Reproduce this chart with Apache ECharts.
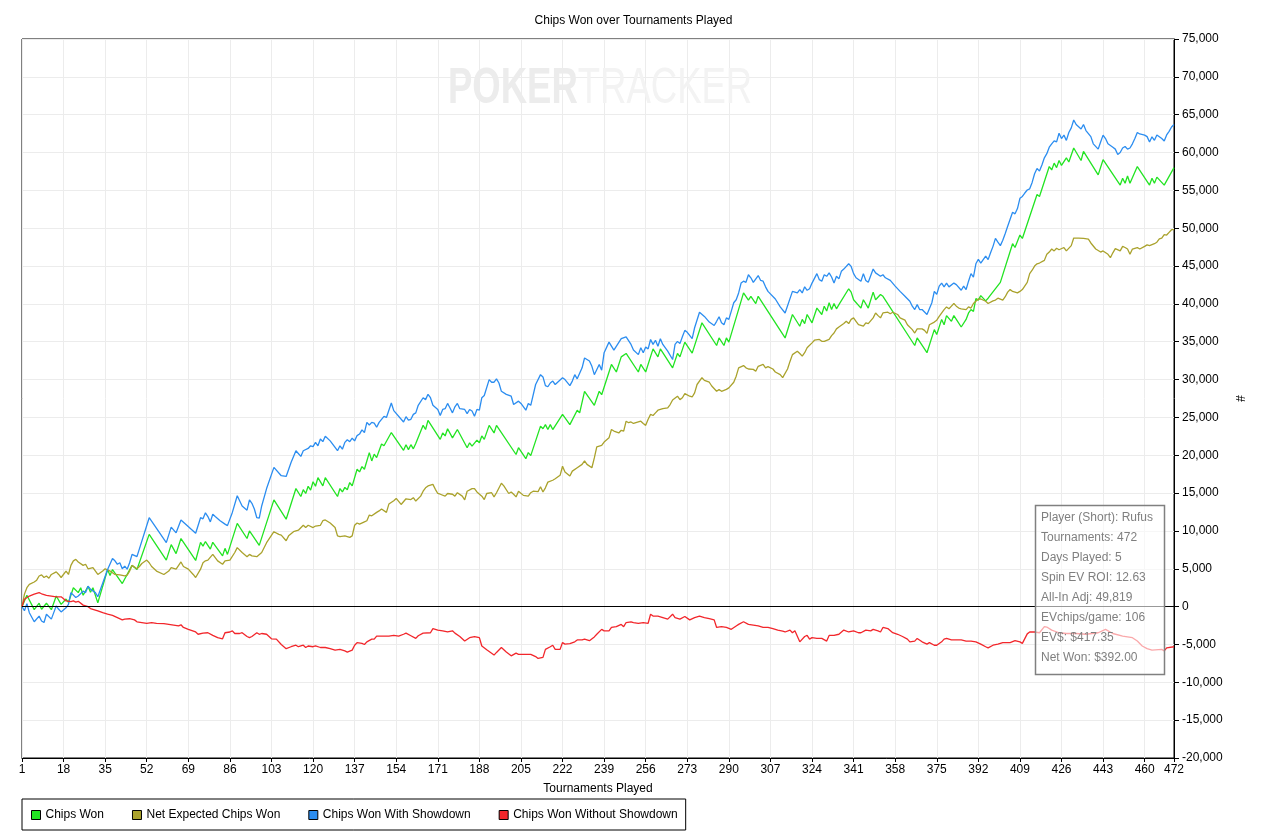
<!DOCTYPE html>
<html>
<head>
<meta charset="utf-8">
<script src="https://cdn.jsdelivr.net/npm/echarts/dist/echarts.min.js"></script>
<style>
html,body{margin:0;padding:0;background:#fff;}
#chart{width:1267px;height:834px;}
</style>
</head>
<body>
<div id="chart"></div>
<script>
// ---- data: [tournament, chips] pairs ----
const chartTitle = 'Chips Won over Tournaments Played';
const xAxisName = 'Tournaments Played';
const yAxisName = '#';
const seriesNames = ['Chips Won', 'Net Expected Chips Won', 'Chips Won With Showdown', 'Chips Won Without Showdown'];
const seriesColors = ['#22e422', '#aaa22c', '#2b8df0', '#f2262b'];
const infoLines = ['Player (Short): Rufus', 'Tournaments: 472', 'Days Played: 5', 'Spin EV ROI: 12.63', 'All-In Adj: 49,819', 'EVchips/game: 106', 'EV$: $417.35', 'Net Won: $392.00'];

const chipsWon = [[1,0],[3,1500],[6,-400],[8,450],[9,-350],[11,450],[13,-400],[15,1400],[17,300],[19,1000],[20,550],[22,2500],[24,1850],[25,2500],[26,1500],[28,2700],[29,1900],[30,2500],[32,500],[36,4900],[37,4100],[38,4900],[42,3050],[46,5450],[48,4900],[53,9550],[60,6150],[62,8200],[64,7000],[66,9000],[72,6100],[74,8500],[75,8000],[76,8600],[78,7600],[79,8500],[83,6700],[84,7700],[85,6900],[89,11000],[93,9000],[94,10000],[98,8100],[104,14100],[109,11550],[113,15600],[115,14550],[116,15450],[117,14950],[118,15900],[119,15400],[120,16500],[121,15900],[122,17050],[124,15950],[125,17050],[130,14550],[131,15600],[132,15150],[133,15750],[134,15450],[135,16400],[136,15950],[138,18150],[139,17800],[140,18500],[141,18150],[143,20350],[144,19250],[145,20150],[146,19700],[148,21500],[149,21250],[152,23000],[157,20650],[158,21400],[159,20750],[160,21400],[161,20850],[162,21550],[165,23950],[166,23400],[167,24600],[172,22100],[173,22950],[174,22550],[175,23500],[177,22300],[179,23400],[183,21000],[184,21650],[185,21200],[187,22000],[188,21650],[189,22550],[190,22100],[192,23950],[194,22950],[195,23950],[203,20100],[204,21000],[207,19550],[208,20350],[209,19950],[213,23850],[214,23500],[215,24050],[216,23400],[217,24050],[218,23400],[222,25400],[225,24050],[228,25950],[229,25600],[231,28450],[235,26600],[237,28450],[238,28000],[242,32000],[244,31000],[246,33000],[248,33450],[253,31000],[254,32000],[256,31000],[259,34050],[261,33000],[262,34050],[267,31550],[269,33450],[270,33000],[272,34950],[275,33500],[279,37500],[285,34500],[286,35500],[288,34500],[289,35500],[290,34950],[296,41450],[298,40500],[299,41000],[301,40050],[302,41000],[313,35500],[316,38600],[319,37050],[320,37950],[321,37400],[322,38600],[324,37500],[326,39450],[328,38600],[329,39700],[330,39050],[331,40150],[332,39250],[333,40050],[334,39350],[335,39900],[339,42000],[340,41550],[341,40550],[344,39450],[345,40550],[347,39450],[349,41550],[350,40550],[352,41250],[353,41000],[366,34500],[367,35500],[371,33550],[374,36600],[375,35950],[377,37950],[378,37250],[379,38450],[381,37700],[382,38450],[383,37950],[385,36950],[387,37950],[388,38800],[389,39250],[390,39000],[391,40700],[392,40500],[393,41100],[395,40400],[396,40750],[401,42850],[406,47950],[407,47450],[409,49100],[410,48650],[416,54450],[417,54200],[421,58150],[422,57700],[423,58600],[424,58000],[425,58950],[426,58300],[428,59300],[429,58750],[431,60600],[434,58950],[435,60150],[441,57050],[443,59050],[450,55700],[451,56600],[452,55950],[453,56900],[454,55950],[457,58150],[462,55700],[463,56600],[464,55950],[465,56750],[468,55700],[472,58000]];

const netExpectedChipsWon = [[1,0],[2,1650],[3,2500],[4,2950],[6,3250],[7,3500],[8,4050],[9,4200],[10,3850],[11,4050],[12,3750],[13,4250],[15,4600],[16,4250],[17,3850],[19,4700],[20,4250],[21,5450],[22,6050],[23,6250],[24,5900],[26,5450],[27,5600],[28,5000],[30,5150],[32,4250],[34,4700],[35,5000],[37,4700],[39,4250],[41,4200],[43,4050],[44,4150],[45,4700],[46,5450],[48,5000],[49,5300],[50,5700],[52,6150],[53,5800],[54,5300],[56,4700],[59,4250],[61,4700],[62,5150],[64,4950],[66,5900],[67,5300],[69,4950],[71,4250],[72,3850],[74,4950],[75,5800],[76,6050],[77,6150],[79,6900],[81,6050],[83,5600],[84,6050],[86,6150],[88,7150],[89,7800],[91,7150],[93,6600],[94,6900],[95,6700],[97,6600],[99,7150],[101,8450],[104,9900],[106,9550],[107,9450],[109,8700],[110,9350],[112,9900],[114,10100],[116,10750],[117,10450],[118,10750],[120,10450],[121,10650],[123,10750],[124,11350],[125,11450],[127,11050],[129,10450],[130,9350],[131,9250],[133,9350],[135,9150],[136,9350],[137,10750],[138,11050],[139,10900],[141,11200],[142,11350],[143,12100],[144,12000],[146,12450],[147,12650],[148,12900],[150,12450],[151,13550],[153,14000],[154,14300],[156,13500],[158,14250],[160,14150],[161,14400],[162,13950],[164,14600],[165,15250],[166,15700],[167,15950],[169,16150],[170,15500],[171,14950],[172,14850],[174,14600],[175,14950],[177,14850],[178,14600],[179,15050],[181,14600],[182,14100],[183,15250],[185,15600],[186,15600],[187,15150],[189,14600],[190,14150],[191,14950],[193,15050],[194,14500],[195,15050],[197,16300],[198,15950],[200,14950],[201,15150],[202,14850],[203,14500],[204,15250],[206,14700],[208,14600],[209,15050],[210,15250],[212,15200],[213,15850],[214,15150],[215,15700],[216,16450],[218,16700],[219,16900],[221,17350],[222,18550],[223,17800],[225,17250],[226,17900],[228,18350],[230,18800],[231,19250],[232,18800],[234,18350],[235,19650],[236,21100],[238,21300],[239,21750],[241,22300],[242,23400],[243,23200],[245,22950],[246,23300],[247,23200],[248,24500],[249,24300],[250,24400],[251,24200],[253,24400],[254,24500],[255,24200],[256,23950],[257,24750],[258,25400],[259,25250],[260,25600],[261,25950],[263,26150],[265,26250],[266,26700],[267,27300],[269,27800],[270,27350],[271,27600],[272,28150],[274,27800],[275,27700],[276,28250],[277,29350],[279,30250],[280,29900],[282,29650],[283,29150],[285,28450],[286,28700],[287,28450],[289,28700],[290,28900],[292,29650],[293,30450],[294,31550],[296,31850],[297,31550],[298,31400],[300,31350],[301,31100],[302,31750],[304,32000],[305,31550],[306,31700],[308,31400],[309,31000],[311,30650],[312,30250],[314,31400],[315,32400],[316,33300],[318,33750],[319,33450],[320,33100],[321,33550],[322,34200],[324,34850],[325,35200],[327,35300],[328,35050],[329,35050],[331,35300],[332,35800],[333,36150],[334,36700],[335,36950],[337,37400],[338,37700],[339,37400],[340,37950],[341,38150],[342,37700],[343,37250],[345,37050],[346,37500],[347,37400],[349,38150],[350,38800],[351,38450],[352,38150],[353,38800],[355,38900],[356,38700],[357,38900],[359,38600],[360,38150],[362,37850],[363,37250],[365,36600],[366,36150],[367,36700],[369,36700],[370,36500],[371,36100],[372,37250],[374,37600],[375,37850],[376,38350],[378,39250],[379,39600],[380,39350],[381,39700],[382,40050],[383,39700],[384,39450],[385,39350],[387,39250],[388,39600],[389,39450],[390,40050],[391,40350],[392,40650],[393,40650],[395,40350],[396,40050],[398,40400],[399,40500],[400,40750],[402,40500],[403,40950],[404,41550],[405,41900],[406,41650],[408,41450],[409,41650],[410,41900],[412,42850],[413,44000],[414,44450],[415,45000],[416,45300],[417,45400],[419,45750],[420,46550],[421,46850],[422,47250],[423,47000],[424,47350],[425,47150],[427,47450],[428,47000],[430,47700],[431,48700],[433,48700],[435,48650],[437,48550],[438,48050],[440,47250],[442,46850],[443,47000],[445,46550],[446,46100],[447,46750],[448,47300],[450,47000],[451,47600],[452,47450],[453,47250],[454,46550],[455,47250],[457,47450],[458,47250],[460,47600],[461,47800],[462,47700],[464,47950],[465,48150],[466,48600],[467,48700],[468,49150],[469,49100],[470,49450],[471,49800],[472,49820]];

const chipsWonWithShowdown = [[1,0],[2,-550],[3,400],[4,-800],[6,-2000],[8,-1250],[9,-1900],[10,-2100],[11,-1000],[13,-1650],[15,100],[16,-350],[17,-700],[19,-150],[20,300],[21,1850],[23,1200],[24,1400],[26,2050],[27,1850],[28,2700],[29,2300],[31,1850],[32,1300],[36,4900],[38,6350],[39,6050],[40,5600],[41,5800],[42,5000],[43,5350],[44,4950],[45,5800],[46,6900],[48,6600],[53,11750],[60,8450],[62,10500],[64,9750],[66,11450],[72,9700],[74,11750],[75,11600],[76,12400],[77,11900],[78,11200],[79,12200],[80,11900],[82,11350],[84,10900],[85,10700],[87,12450],[89,14650],[91,13300],[93,12750],[94,14100],[95,13650],[96,12900],[97,11750],[98,11700],[99,13300],[101,15600],[104,18400],[107,17300],[109,17200],[111,19050],[113,20600],[115,19850],[116,20600],[118,20900],[119,21250],[120,21150],[121,21700],[122,21250],[123,22150],[124,21800],[125,22500],[127,21900],[130,20600],[131,21250],[132,20800],[133,21700],[134,22050],[135,21800],[136,22250],[137,21900],[138,22600],[139,22800],[140,23350],[141,23000],[142,24350],[143,24000],[144,24350],[145,24250],[146,23700],[147,24350],[149,25150],[150,25000],[152,26900],[153,25900],[157,24400],[158,25100],[159,24650],[160,24750],[161,25400],[162,25600],[163,26600],[165,27600],[166,27350],[167,28050],[168,27600],[169,26600],[171,26050],[172,25250],[173,26050],[174,26150],[175,26850],[176,26250],[177,25600],[178,26400],[179,26850],[180,26150],[182,26050],[183,25500],[184,26050],[185,25850],[186,25150],[187,26050],[188,25950],[189,27600],[190,27900],[192,30000],[193,29650],[194,29650],[195,30100],[196,29550],[197,28450],[199,28050],[201,27800],[202,26700],[204,27150],[205,26850],[207,25950],[208,26850],[209,26600],[211,29350],[213,30650],[214,30350],[215,29200],[216,29050],[217,29550],[218,29800],[219,29350],[220,29650],[222,30250],[223,30000],[225,29200],[226,29800],[227,30650],[228,30100],[230,31550],[231,32850],[233,32450],[234,31750],[235,30650],[237,32000],[238,31250],[239,33550],[241,34950],[243,33900],[246,35400],[248,35650],[250,34650],[251,33900],[253,33300],[254,34200],[255,33550],[256,34300],[257,34050],[258,35300],[259,34650],[260,35200],[261,34400],[262,35400],[263,34650],[265,33750],[267,32650],[268,34650],[269,35050],[270,34750],[271,35650],[272,36500],[273,36250],[275,35400],[276,36850],[278,38900],[280,38350],[282,37600],[284,37150],[285,37700],[286,38300],[287,37500],[288,37250],[289,38150],[290,37950],[291,39050],[292,40150],[293,40550],[294,41450],[295,42750],[296,43000],[297,42850],[298,43850],[299,43450],[300,42850],[302,43750],[303,43100],[304,43000],[305,42250],[306,41650],[309,40650],[311,39600],[313,38800],[316,41650],[318,41450],[319,41900],[320,41450],[321,42250],[322,41800],[323,42000],[324,42750],[326,44000],[327,43200],[328,43000],[329,43850],[330,43650],[331,44100],[332,43550],[333,42750],[334,43650],[335,43300],[336,44300],[337,44600],[339,45300],[340,44950],[341,44000],[342,43450],[344,43000],[345,44000],[346,43100],[347,42850],[349,44600],[350,44100],[352,43650],[353,43850],[354,43450],[356,43100],[358,42350],[360,41650],[362,41000],[364,40350],[365,39700],[366,39250],[367,39900],[368,39250],[369,39250],[371,38600],[373,40150],[374,41650],[375,41250],[376,42350],[377,42750],[378,42250],[379,42750],[380,42250],[382,42750],[383,42550],[385,41800],[386,42350],[387,41900],[388,43000],[389,44000],[390,43550],[391,45300],[392,45900],[393,45400],[395,46300],[396,45850],[397,46750],[398,47600],[399,48650],[400,48150],[401,47700],[402,48400],[403,49300],[404,50250],[406,52100],[407,51900],[408,52600],[409,53950],[410,54200],[411,54650],[412,55050],[413,55200],[414,56050],[415,57200],[416,57900],[417,57550],[418,58350],[419,59300],[420,59850],[421,60700],[422,61150],[423,61550],[424,61400],[425,62550],[426,61850],[427,62300],[428,61600],[429,62650],[430,63250],[431,64300],[432,63700],[434,63100],[435,63700],[436,62900],[438,62100],[439,61150],[441,60450],[442,61400],[443,62300],[444,61850],[445,61150],[447,60700],[448,60450],[449,59750],[450,60000],[451,60600],[452,60800],[453,60450],[454,60600],[455,61150],[456,61850],[457,62650],[458,62450],[460,62300],[461,62100],[462,61400],[463,62080],[464,61620],[465,62320],[467,61850],[468,61530],[469,62320],[470,62800],[471,63380],[472,63700]];

const chipsWonWithoutShowdown = [[1,0],[2,970],[4,1400],[6,1650],[8,1850],[9,1700],[11,1500],[13,1400],[15,1300],[17,1300],[18,1050],[19,750],[21,650],[22,750],[23,600],[24,700],[26,200],[28,0],[29,-250],[31,-450],[32,-550],[34,-800],[36,-1000],[38,-1150],[40,-1450],[42,-1750],[43,-1650],[45,-1600],[47,-1750],[48,-2000],[50,-2100],[52,-2200],[54,-2100],[56,-2200],[59,-2250],[61,-2350],[63,-2450],[65,-2550],[66,-2400],[67,-2750],[69,-3000],[72,-3350],[73,-3650],[75,-3500],[77,-3450],[79,-3800],[81,-4100],[83,-4250],[84,-3450],[86,-3350],[87,-3200],[88,-3550],[90,-3550],[91,-3450],[93,-3950],[94,-4100],[95,-3950],[97,-3450],[98,-3650],[99,-3550],[101,-3650],[102,-3950],[103,-4250],[105,-4300],[107,-5000],[109,-5550],[111,-5300],[113,-5100],[114,-5300],[116,-5100],[117,-5400],[118,-5200],[120,-5300],[121,-5200],[123,-5400],[125,-5400],[127,-5550],[129,-5750],[131,-5650],[133,-5850],[134,-6000],[136,-5750],[137,-5100],[138,-4750],[140,-4850],[141,-5000],[142,-4650],[144,-4300],[145,-4300],[146,-3900],[149,-3900],[151,-3900],[153,-3800],[155,-3900],[157,-3650],[158,-3500],[160,-3850],[162,-4200],[163,-3850],[165,-3500],[168,-3450],[169,-2900],[171,-3100],[173,-3200],[175,-3350],[177,-3200],[178,-3500],[180,-3950],[182,-4550],[184,-4100],[186,-3950],[188,-4100],[189,-5200],[191,-5700],[194,-6400],[195,-6050],[197,-5400],[199,-6000],[201,-6500],[203,-6150],[204,-6300],[206,-6300],[209,-6300],[211,-6600],[212,-6850],[214,-6700],[215,-5650],[217,-5300],[218,-5100],[219,-5650],[221,-5650],[222,-4750],[223,-4950],[225,-4900],[227,-4650],[228,-4400],[230,-4400],[231,-4300],[233,-4500],[235,-4000],[236,-3650],[238,-3000],[239,-3200],[241,-3200],[242,-2750],[244,-2650],[246,-2350],[247,-2650],[248,-2100],[250,-2000],[251,-2100],[253,-2200],[255,-2100],[257,-2200],[258,-1000],[259,-1250],[261,-1250],[263,-1450],[265,-1650],[267,-1000],[268,-1450],[270,-1650],[272,-1300],[274,-1750],[276,-1450],[278,-1250],[280,-1450],[282,-1600],[284,-1750],[285,-2750],[287,-2650],[289,-2750],[291,-3000],[293,-2550],[294,-2350],[296,-2000],[298,-2350],[300,-2450],[302,-2550],[304,-2750],[306,-2750],[308,-2900],[310,-3100],[312,-3250],[313,-3350],[315,-3100],[316,-3450],[317,-3200],[319,-4650],[321,-3950],[322,-3800],[323,-4300],[324,-4100],[326,-4200],[328,-4200],[330,-4550],[331,-3800],[333,-3800],[335,-3650],[337,-3100],[339,-3350],[341,-3200],[343,-3450],[344,-3450],[346,-3100],[348,-3200],[349,-3000],[351,-3200],[352,-3350],[353,-2750],[355,-2900],[357,-3450],[359,-3650],[361,-3950],[363,-4300],[364,-4650],[366,-4550],[367,-4200],[369,-4650],[371,-4950],[372,-4750],[374,-5100],[375,-5100],[377,-4650],[378,-4300],[379,-4200],[381,-4400],[383,-4400],[385,-4400],[387,-4550],[389,-4550],[391,-4650],[393,-4950],[395,-5300],[396,-5450],[398,-5100],[400,-4950],[402,-4750],[405,-4750],[407,-4500],[409,-4650],[410,-4850],[412,-3600],[413,-3350],[415,-3350],[417,-3450],[419,-2650],[420,-2700],[422,-3100],[425,-3450],[428,-3550],[432,-3550],[436,-3650],[441,-3450],[444,-3000],[447,-3550],[451,-3900],[455,-4100],[457,-4550],[459,-5200],[461,-5550],[463,-5750],[467,-5650],[468,-5850],[469,-5450],[472,-5300]];

const seriesData = [chipsWon, netExpectedChipsWon, chipsWonWithShowdown, chipsWonWithoutShowdown];

// ---- chart ----
const FONT = 'Liberation Sans';
const chart = echarts.init(document.getElementById('chart'), null, {renderer: 'canvas'});

const series = seriesNames.map((name, i) => {
  const s = {
    name: name,
    type: 'line',
    data: seriesData[i],
    showSymbol: false,
    symbol: 'none',
    color: seriesColors[i],
    lineStyle: {width: 1.3, color: seriesColors[i]},
    itemStyle: {color: seriesColors[i]},
    animation: false,
    z: 3
  };
  if (i === 0) {
    s.markLine = {
      silent: true,
      symbol: ['none', 'none'],
      label: {show: false},
      lineStyle: {color: '#000', type: 'solid', width: 1},
      data: [{yAxis: 0}],
      animation: false
    };
  }
  return s;
});

const option = {
  animation: false,
  backgroundColor: '#fff',
  textStyle: {fontFamily: FONT},
  title: {
    text: chartTitle,
    left: 'center',
    top: 15,
    padding: 0,
    textStyle: {fontSize: 12, fontWeight: 'normal', color: '#000', fontFamily: FONT}
  },
  grid: {
    left: 22, right: 93, top: 39, bottom: 76,
    show: true, borderColor: '#000', borderWidth: 1, backgroundColor: '#fff'
  },
  legend: {
    data: seriesNames,
    left: 22, top: 799,
    orient: 'horizontal',
    padding: [10, 8, 9, 9],
    itemWidth: 9, itemHeight: 9, itemGap: 28,
    icon: 'rect',
    itemStyle: {borderColor: '#000', borderWidth: 1},
    borderColor: '#000', borderWidth: 1,
    textStyle: {fontSize: 12, color: '#000', fontFamily: FONT}
  },
  xAxis: {
    type: 'value',
    min: 1, max: 472, interval: 17,
    name: xAxisName,
    nameLocation: 'middle',
    nameGap: 25,
    nameTextStyle: {fontSize: 12, color: '#000', fontFamily: FONT},
    axisLine: {show: true, onZero: false, lineStyle: {color: '#000', width: 1}},
    axisTick: {show: true, length: 4, lineStyle: {color: '#000'}},
    axisLabel: {color: '#000', fontSize: 12, margin: 6, fontFamily: FONT, showMaxLabel: true, showMinLabel: true},
    splitLine: {show: true, lineStyle: {color: '#ececec', width: 1}}
  },
  yAxis: {
    type: 'value',
    position: 'right',
    min: -20000, max: 75000, interval: 5000,
    name: yAxisName,
    nameLocation: 'middle',
    nameGap: 58,
    nameRotate: -90,
    nameTextStyle: {fontSize: 12, color: '#000', fontFamily: FONT},
    axisLine: {show: true, lineStyle: {color: '#000', width: 1}},
    axisTick: {show: true, length: 5, lineStyle: {color: '#000'}},
    axisLabel: {
      color: '#000', fontSize: 12, margin: 8, fontFamily: FONT,
      formatter: v => v.toLocaleString('en-US')
    },
    splitLine: {show: true, lineStyle: {color: '#ececec', width: 1}}
  },
  graphic: [
    {
      type: 'text',
      x: 448, y: 89,
      scaleX: 0.73,
      z: 1, zlevel: 0,
      silent: true,
      style: {
        text: '{a|POKER}{b|TRACKER}',
        verticalAlign: 'middle',
        rich: {
          a: {fontSize: 50, fontWeight: 'bold', fill: '#ececec', color: '#ececec', fontFamily: FONT},
          b: {fontSize: 50, fontWeight: 'normal', fill: '#f3f3f3', color: '#f3f3f3', fontFamily: FONT}
        }
      }
    },
    {
      type: 'rect',
      z: 100,
      silent: true,
      shape: {x: 1035.5, y: 505.5, width: 129, height: 169},
      style: {fill: 'rgba(255,255,255,0.6)', stroke: '#808080', lineWidth: 1.5}
    },
    {
      type: 'text',
      z: 101,
      silent: true,
      x: 1041, y: 508,
      style: {
        text: infoLines.join('\n'),
        fontSize: 12,
        fontFamily: FONT,
        lineHeight: 20,
        fill: '#7f7f7f',
        verticalAlign: 'top'
      }
    }
  ],
  series: series
};

chart.setOption(option);
</script>
</body>
</html>
